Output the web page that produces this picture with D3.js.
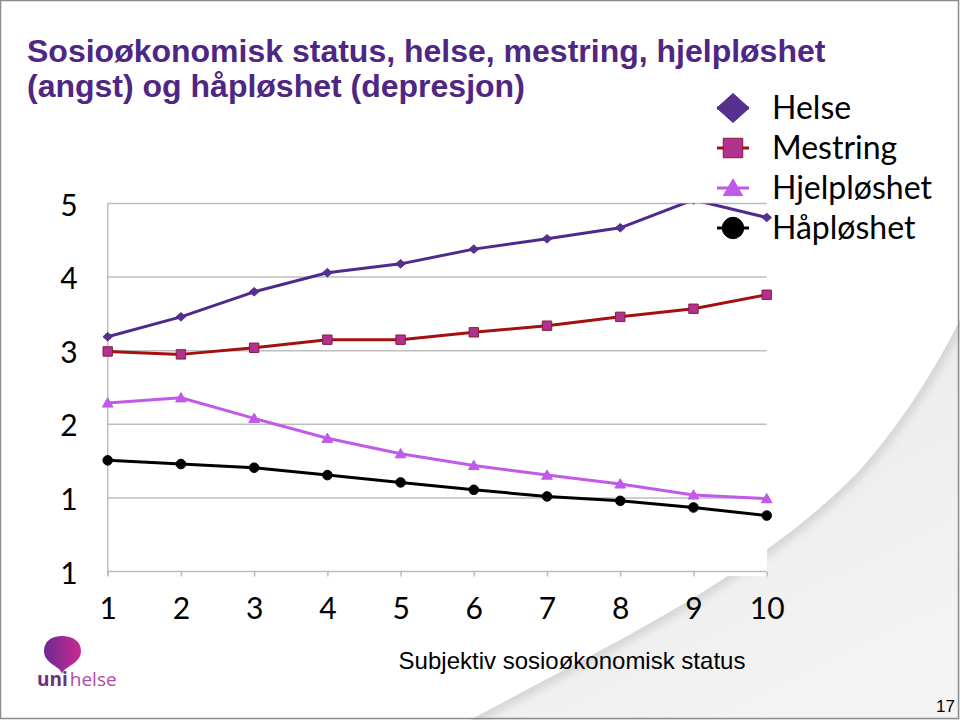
<!DOCTYPE html>
<html>
<head>
<meta charset="utf-8">
<script src="https://cdn.jsdelivr.net/npm/d3@7"></script>
<style>
  body { margin: 0; background: #fff; }
  svg { display: block; }
</style>
</head>
<body>
<svg id="chart" width="960" height="720"></svg>
<script>
// data
var categories = [1, 2, 3, 4, 5, 6, 7, 8, 9, 10];
var helse      = [3.19, 3.46, 3.80, 4.06, 4.18, 4.38, 4.52, 4.67, 5.05, 4.81];
var mestring   = [2.99, 2.95, 3.04, 3.15, 3.15, 3.25, 3.34, 3.46, 3.57, 3.76];
var hjelpl     = [2.29, 2.36, 2.08, 1.81, 1.60, 1.44, 1.31, 1.19, 1.04, 0.99];
var haapl      = [1.51, 1.46, 1.41, 1.31, 1.21, 1.11, 1.02, 0.96, 0.87, 0.76];
var yTickValues = [0, 1, 2, 3, 4, 5];
var yTickLabels = ["1", "1", "2", "3", "4", "5"];
var seriesNames = ["Helse", "Mestring", "Hjelpløshet", "Håpløshet"];

var titleLines = ["Sosioøkonomisk status, helse, mestring, hjelpløshet",
                  "(angst) og håpløshet (depresjon)"];
var xAxisTitle = "Subjektiv sosioøkonomisk status";

// wide diamond (rotated square), d3's own diamond is too narrow here
var wideDiamond = {
    draw: function (context, size) {
        var r = Math.sqrt(size / 2);
        context.moveTo(0, -r * 0.9);
        context.lineTo(r, 0);
        context.lineTo(0, r * 0.9);
        context.lineTo(-r, 0);
        context.closePath();
    }
};

var series = [
    {name: seriesNames[0], values: helse,    line: "#4f2a8c", fill: "#55308f", stroke: "#4f2a8c", symbol: wideDiamond,      size: 45,  legendSize: 520},
    {name: seriesNames[1], values: mestring, line: "#a3100f", fill: "#b0318f", stroke: "#8a1a3a", symbol: d3.symbolSquare,  size: 88,  legendSize: 380},
    {name: seriesNames[2], values: hjelpl,   line: "#c15ae8", fill: "#c15ae8", stroke: "#c15ae8", symbol: d3.symbolTriangle, size: 50, legendSize: 160},
    {name: seriesNames[3], values: haapl,    line: "#000000", fill: "#000000", stroke: "#000000", symbol: d3.symbolCircle,  size: 72,  legendSize: 360}
];

var svg = d3.select("#chart");
var defs = svg.append("defs");

// page curl in the lower right corner
var curlGrad = defs.append("linearGradient")
    .attr("id", "curl").attr("x1", "0").attr("y1", "0").attr("x2", "0.6").attr("y2", "1");
curlGrad.append("stop").attr("offset", "0").attr("stop-color", "#dddddd");
curlGrad.append("stop").attr("offset", "0.3").attr("stop-color", "#ebebeb");
curlGrad.append("stop").attr("offset", "1").attr("stop-color", "#f3f3f3");

var curlPath = "M470,720 C600,650 760,575 860,470 C905,420 940,360 960,320 L960,720 Z";
svg.append("path")
    .attr("d", curlPath)
    .attr("fill", "url(#curl)");

// soft shadow along the curl edge
defs.append("filter").attr("id", "blur")
    .append("feGaussianBlur").attr("stdDeviation", 5);
defs.append("clipPath").attr("id", "curlClip")
    .append("path").attr("d", curlPath);
svg.append("path")
    .attr("d", "M470,720 C600,650 760,575 860,470 C905,420 940,360 960,320")
    .attr("fill", "none")
    .attr("stroke", "#cfcfcf")
    .attr("stroke-width", 10)
    .attr("filter", "url(#blur)")
    .attr("clip-path", "url(#curlClip)");

// white chart area over the curl
svg.append("rect")
    .attr("x", 0).attr("y", 0)
    .attr("width", 767).attr("height", 576)
    .attr("fill", "#fff");

// slide border
svg.append("rect")
    .attr("x", 0.5).attr("y", 0.5)
    .attr("width", 958).attr("height", 718)
    .attr("fill", "none").attr("stroke", "#8c8c8c").attr("stroke-width", 1.5);

// title
svg.append("text")
    .attr("x", 27).attr("y", 62)
    .style("font-family", "'Liberation Sans', Arial, sans-serif")
    .style("font-weight", "bold")
    .style("font-size", "32px")
    .style("fill", "#4f2683")
    .selectAll("tspan")
    .data(titleLines)
    .enter().append("tspan")
        .attr("x", 27)
        .attr("dy", function (d, i) { return i === 0 ? 0 : 35; })
        .text(function (d) { return d; });

// scales
var x = d3.scaleLinear().domain([1, 10]).range([107.7, 766.7]);
var y = d3.scaleLinear().domain([0, 5]).range([571.5, 203.5]);

var tickFont = "Lato, 'Open Sans', sans-serif";

// gridlines
svg.append("g")
    .attr("class", "grid")
    .selectAll("line")
    .data(yTickValues)
    .enter().append("line")
        .attr("x1", x(1)).attr("x2", x(10))
        .attr("y1", function (d) { return y(d); })
        .attr("y2", function (d) { return y(d); })
        .attr("stroke", "#bdbdbd").attr("stroke-width", 1.5);

// vertical axis line
svg.append("line")
    .attr("x1", x(1)).attr("x2", x(1))
    .attr("y1", y(5)).attr("y2", y(0) + 4)
    .attr("stroke", "#bdbdbd").attr("stroke-width", 1.5);

// X axis (ticks + labels)
var xAxis = svg.append("g")
    .attr("transform", "translate(0," + y(0) + ")")
    .call(d3.axisBottom(x).tickValues(categories).tickFormat(d3.format("d")).tickSize(5).tickPadding(21));
xAxis.select(".domain").remove();
xAxis.selectAll(".tick line").attr("stroke", "#bdbdbd").attr("stroke-width", 1.5);
xAxis.selectAll(".tick text")
    .style("font-family", tickFont)
    .style("font-size", "30px")
    .style("fill", "#000");

// Y axis labels
var yAxis = svg.append("g")
    .attr("transform", "translate(" + x(1) + ",2)")
    .call(d3.axisLeft(y).tickValues(yTickValues)
        .tickFormat(function (d, i) { return yTickLabels[i]; })
        .tickSize(0).tickPadding(30));
yAxis.select(".domain").remove();
yAxis.selectAll(".tick text")
    .style("font-family", tickFont)
    .style("font-size", "30px")
    .style("fill", "#000");

// axis title
svg.append("text")
    .attr("x", 572).attr("y", 669)
    .attr("text-anchor", "middle")
    .style("font-family", "'Liberation Sans', Arial, sans-serif")
    .style("font-size", "24px")
    .style("fill", "#000")
    .text(xAxisTitle);

// plot clipping (Helse goes over 5 at x=9)
defs.append("clipPath").attr("id", "plotClip")
    .append("rect")
    .attr("x", x(1) - 20).attr("y", y(5))
    .attr("width", x(10) - x(1) + 40).attr("height", y(0) - y(5) + 20);

var lineGen = d3.line()
    .x(function (d, i) { return x(categories[i]); })
    .y(function (d) { return y(d); });

var gSeries = svg.append("g").attr("clip-path", "url(#plotClip)")
    .selectAll(".series")
    .data(series)
    .enter().append("g")
        .attr("class", "series");

gSeries.append("path")
    .attr("d", function (d) { return lineGen(d.values); })
    .attr("fill", "none")
    .attr("stroke", function (d) { return d.line; })
    .attr("stroke-width", 3)
    .attr("stroke-linejoin", "round");

gSeries.each(function (s) {
    d3.select(this).selectAll(".dot")
        .data(s.values)
        .enter().append("path")
            .attr("class", "dot")
            .attr("d", d3.symbol().type(s.symbol).size(s.size))
            .attr("transform", function (d, i) {
                var dy = s.symbol === d3.symbolTriangle ? 1 : 0;
                return "translate(" + x(categories[i]) + "," + (y(d) + dy) + ")";
            })
            .attr("fill", s.fill)
            .attr("stroke", s.stroke)
            .attr("stroke-width", 1);
});

// legend
var legend = svg.selectAll(".legend")
    .data(series)
    .enter().append("g")
        .attr("class", "legend")
        .attr("transform", function (d, i) { return "translate(733," + (108 + i * 40) + ")"; });

legend.append("line")
    .attr("x1", -16).attr("x2", 16)
    .attr("stroke", function (d) { return d.line; })
    .attr("stroke-width", 3);

legend.append("path")
    .attr("d", function (d) { return d3.symbol().type(d.symbol).size(d.legendSize)(); })
    .attr("transform", function (d) { return d.symbol === d3.symbolTriangle ? "translate(0,2)" : null; })
    .attr("fill", function (d) { return d.fill; })
    .attr("stroke", function (d) { return d.stroke; })
    .attr("stroke-width", 1);

legend.append("text")
    .attr("x", 39).attr("y", 11)
    .style("font-family", tickFont)
    .style("font-size", "32px")
    .style("fill", "#000")
    .text(function (d) { return d.name; });

// logo
var logoGrad = defs.append("linearGradient")
    .attr("id", "logoGrad").attr("x1", "0").attr("y1", "0").attr("x2", "1").attr("y2", "0");
logoGrad.append("stop").attr("offset", "0").attr("stop-color", "#6b2a94");
logoGrad.append("stop").attr("offset", "1").attr("stop-color", "#cc2a92");

var logo = svg.append("g").attr("class", "logo");
logo.append("path")
    .attr("d", "M62,674 C61,666 44,664 44,651 C44,641 52,636 62,636 C72,636 81,641 81,651 C81,664 64,666 62,674 Z")
    .attr("fill", "url(#logoGrad)");
logo.append("text")
    .attr("x", 37).attr("y", 686)
    .style("font-family", "'Open Sans', sans-serif")
    .style("font-size", "19px")
    .selectAll("tspan")
    .data([{t: "uni", c: "#6a2f84", w: "bold"}, {t: "helse", c: "#b04aa6", w: "normal"}])
    .enter().append("tspan")
        .attr("dx", function (d, i) { return i === 0 ? 0 : 2; })
        .style("fill", function (d) { return d.c; })
        .style("font-weight", function (d) { return d.w; })
        .text(function (d) { return d.t; });

// page number
svg.append("text")
    .attr("x", 955).attr("y", 712)
    .attr("text-anchor", "end")
    .style("font-family", "'Liberation Sans', Arial, sans-serif")
    .style("font-size", "17px")
    .style("fill", "#000")
    .text("17");
</script>
</body>
</html>
